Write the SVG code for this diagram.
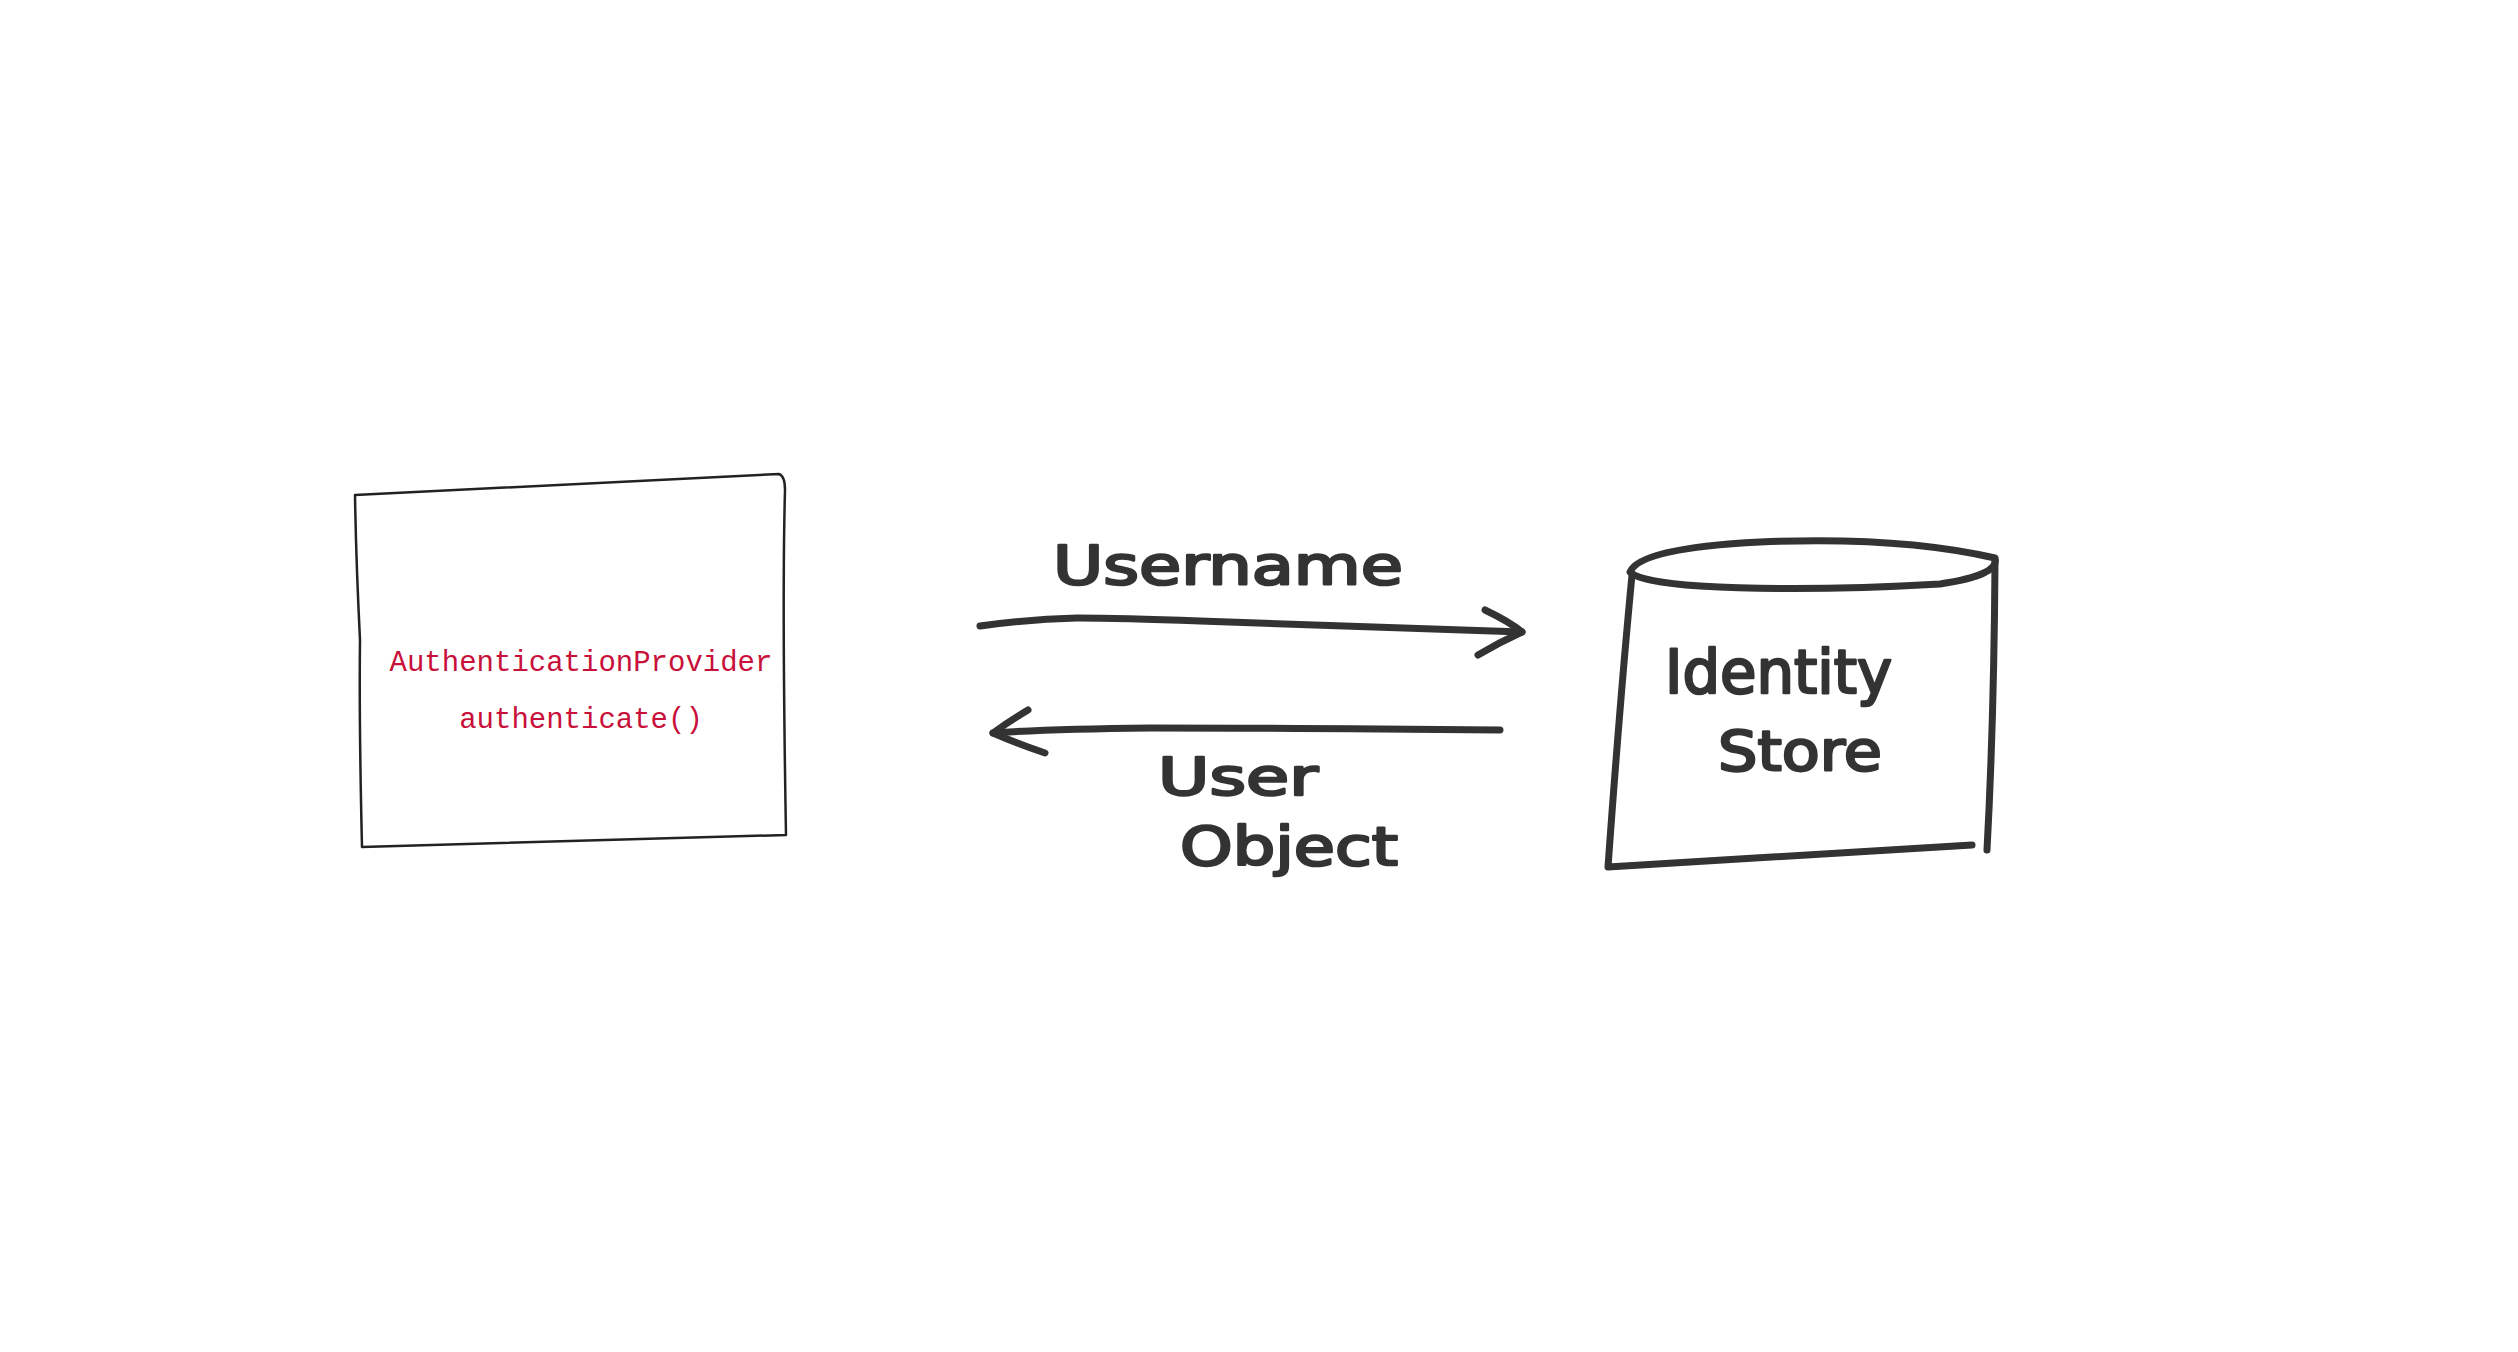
<svg xmlns="http://www.w3.org/2000/svg" width="2518" height="1352" viewBox="0 0 2518 1352">
<style>
.sketch{fill:none;stroke:#333;stroke-width:7;stroke-linecap:round;stroke-linejoin:round}
.thin{fill:none;stroke:#222;stroke-width:2.5;stroke-linecap:round;stroke-linejoin:round}
.code{font-family:"Liberation Mono","DejaVu Sans Mono",monospace;font-size:29px;fill:#c8103a}
.hand{font-family:"DejaVu Sans","Noto Sans",sans-serif;fill:#333;stroke:#333;stroke-width:2.5;stroke-linejoin:round}
</style>
<rect width="2518" height="1352" fill="#ffffff"/>
<g id="authentication-provider">
<path class="thin" d="M355,495 L779,474 Q785,476 785,490 Q782,600 786,835 L362,847 Q359,720 360,640 Q356,560 355,495 Z"/>
<text class="code" x="581" y="671" text-anchor="middle">AuthenticationProvider</text>
<text class="code" x="581" y="728" text-anchor="middle">authenticate()</text>
</g>
<g id="identity-store">
<path class="sketch" d="M1630,572 Q1640,548 1760,542 Q1900,536 1995,558 Q2000,575 1940,584 Q1800,592 1700,586 Q1640,582 1630,572 Z"/>
<path class="sketch" d="M1632,575 Q1620,700 1608,867 L1972,845"/>
<path class="sketch" d="M1995,562 Q1994,720 1987,850"/>
<text class="hand" x="1665" y="693" font-size="60" textLength="227" lengthAdjust="spacingAndGlyphs">Identity</text>
<text class="hand" x="1718" y="770" font-size="56" textLength="164" lengthAdjust="spacingAndGlyphs">Store</text>
</g>
<g id="connectors">
<path class="sketch" d="M980,626 Q1030,619 1077,618 Q1120,618 1200,621 Q1350,626 1522,632"/>
<path class="sketch" d="M1485,610 Q1510,622 1522,632 Q1500,642 1478,655"/>
<path class="sketch" d="M1500,730 Q1300,728 1150,728 Q1050,729 993,733"/>
<path class="sketch" d="M1028,710 Q1008,722 993,733 Q1018,744 1045,753"/>
<text class="hand" x="1053" y="584" font-size="54" textLength="350" lengthAdjust="spacingAndGlyphs">Username</text>
<text class="hand" x="1158" y="795" font-size="52" textLength="160" lengthAdjust="spacingAndGlyphs">User</text>
<text class="hand" x="1180" y="865" font-size="54" textLength="218" lengthAdjust="spacingAndGlyphs">Object</text>
</g>
</svg>
